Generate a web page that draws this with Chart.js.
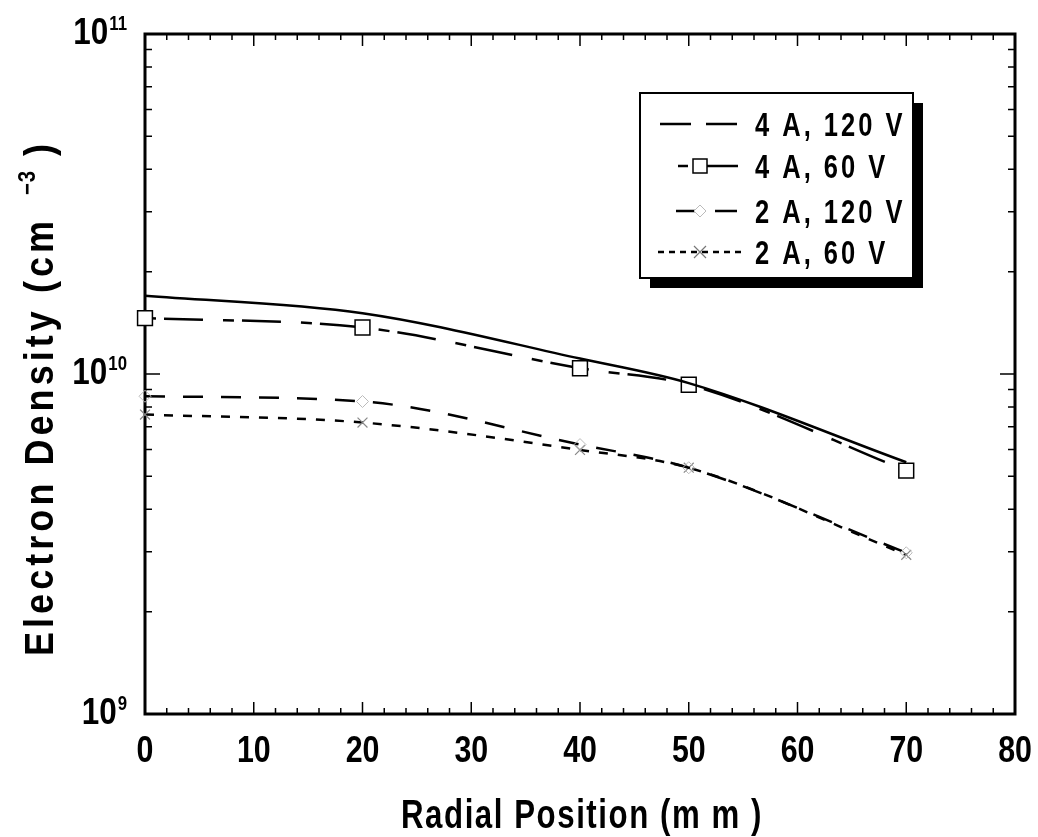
<!DOCTYPE html>
<html lang="en">
<head>
<meta charset="UTF-8" />
<title>Electron Density vs Radial Position</title>
<style>
  body { margin: 0; background: #fff; }
  canvas { display: block; }
</style>
</head>
<body>
<canvas id="myChart" width="1038" height="837"></canvas>
<script src="https://cdn.jsdelivr.net/npm/chart.js@4.4.0/dist/chart.umd.min.js"></script>
<script>
// radial position of each probe measurement (mm)
const positions = [0, 20, 40, 50, 70];

// electron density (cm^-3) for each discharge setting
const density4A120V = [1.70e10, 1.51e10, 1.11e10, 9.4e9, 5.5e9];
const density4A60V = [1.46e10, 1.37e10, 1.04e10, 9.3e9, 5.2e9];
const density2A120V = [8.6e9, 8.3e9, 6.2e9, 5.3e9, 2.98e9];
const density2A60V = [7.6e9, 7.2e9, 5.98e9, 5.3e9, 2.94e9];

const seriesLabels = ["4 A, 120 V", "4 A, 60 V", "2 A, 120 V", "2 A, 60 V"];

// y axis decade labels: base and exponent
const yTickValues = [1e9, 1e10, 1e11];
const yTickBase = ["10", "10", "10"];
const yTickExp = ["9", "10", "11"];

const xTitle = "Radial Position (m m )";
const yTitle = "Electron Density (cm";
const yTitleExp = "\u22123";

const FONT = "'Liberation Sans', Arial, sans-serif";

function pts(values) {
  return positions.map((x, i) => ({ x: x, y: values[i] }));
}

// condensed bold text, the whole chart uses this look
function squeezed(ctx, text, x, y, size, opts) {
  opts = opts || {};
  const sq = opts.squeeze || 0.8;
  ctx.save();
  ctx.font = "bold " + size + "px " + FONT;
  ctx.letterSpacing = (opts.spacing || 0) + "px";
  ctx.textAlign = opts.align || "left";
  ctx.textBaseline = "alphabetic";
  ctx.fillStyle = "#000";
  ctx.translate(x, y);
  if (opts.rotate) ctx.rotate(opts.rotate);
  ctx.scale(sq, 1);
  ctx.fillText(text, 0, 0);
  const w = ctx.measureText(text).width * sq;
  ctx.restore();
  return w;
}

function textWidth(ctx, text, size, spacing, sq) {
  ctx.save();
  ctx.font = "bold " + size + "px " + FONT;
  ctx.letterSpacing = (spacing || 0) + "px";
  const w = ctx.measureText(text).width * sq;
  ctx.restore();
  return w;
}

// box frame with inward ticks on all four sides
const framePlugin = {
  id: "frame",
  beforeDatasetsDraw(chart) {
    const ctx = chart.ctx;
    const a = chart.chartArea;
    const xs = chart.scales.x;
    const ys = chart.scales.y;
    ctx.save();
    ctx.strokeStyle = "#000";
    ctx.lineWidth = 1.5;
    ctx.beginPath();
    for (let v = 2; v < 80; v += 2) {
      const px = xs.getPixelForValue(v);
      const len = v % 10 === 0 ? 12 : 6;
      ctx.moveTo(px, a.bottom);
      ctx.lineTo(px, a.bottom - len);
      ctx.moveTo(px, a.top);
      ctx.lineTo(px, a.top + len);
    }
    [1e9, 1e10].forEach((dec) => {
      for (let m = 1; m <= 9; m++) {
        const v = dec * m;
        if (v <= 1e9) continue;
        const py = ys.getPixelForValue(v);
        const len = m === 1 ? 15 : 7;
        ctx.moveTo(a.left, py);
        ctx.lineTo(a.left + len, py);
        ctx.moveTo(a.right, py);
        ctx.lineTo(a.right - len, py);
      }
    });
    ctx.stroke();
    ctx.lineWidth = 3;
    ctx.strokeRect(a.left, a.top, a.right - a.left, a.bottom - a.top);
    ctx.restore();
  },
};

// legend samples: dash pattern along the sample line and marker kind
const legendSamples = [
  { from: 660, to: 745, dash: [31, 15], marker: null },
  { from: 678, to: 738, dash: [10, 5, 100, 0], marker: "square" },
  { from: 676, to: 737, dash: [19, 20, 40, 0], marker: "diamond" },
  { from: 658, to: 745, dash: [6, 5], marker: "cross" },
];

const labelPlugin = {
  id: "labels",
  afterDraw(chart) {
    const ctx = chart.ctx;
    const a = chart.chartArea;
    const xs = chart.scales.x;
    const ys = chart.scales.y;

    // x tick labels from the scale's own ticks
    xs.ticks.forEach((t) => {
      squeezed(ctx, String(t.value), xs.getPixelForValue(t.value), a.bottom + 48, 37, { align: "center", squeeze: 0.82 });
    });

    // y decade labels with superscript exponents
    yTickValues.forEach((v, i) => {
      const py = ys.getPixelForValue(v);
      const right = 127;
      const ew = textWidth(ctx, yTickExp[i], 21, 0, 0.8);
      squeezed(ctx, yTickExp[i], right - ew, py - 4, 21, { squeeze: 0.8 });
      squeezed(ctx, yTickBase[i], right - ew - 1, py + 10, 37, { align: "right", squeeze: 0.85 });
    });

    // axis titles
    squeezed(ctx, xTitle, (a.left + a.right) / 2 + 2, a.bottom + 114, 40, { align: "center", spacing: 2, squeeze: 0.78 });

    const rot = -Math.PI / 2;
    const tx = 53;
    let ty = 656;
    const w1 = squeezed(ctx, yTitle, tx, ty, 40, { rotate: rot, spacing: 4.5, squeeze: 0.9 });
    ty -= w1 + 22;
    const w2 = squeezed(ctx, yTitleExp, tx - 18, ty, 24, { rotate: rot, spacing: 1, squeeze: 0.85 });
    ty -= w2 + 14;
    squeezed(ctx, ")", tx, ty, 40, { rotate: rot, squeeze: 0.9 });

    // legend box with drop shadow
    const box = { x: 640, y: 93, w: 273, h: 185 };
    ctx.save();
    ctx.fillStyle = "#000";
    ctx.fillRect(box.x + 10, box.y + 10, box.w, box.h);
    ctx.fillStyle = "#fff";
    ctx.fillRect(box.x, box.y, box.w, box.h);
    ctx.lineWidth = 2;
    ctx.strokeStyle = "#000";
    ctx.strokeRect(box.x, box.y, box.w, box.h);

    const rowY = [124, 166, 211, 252];
    legendSamples.forEach((s, i) => {
      const y = rowY[i];
      ctx.save();
      ctx.lineWidth = 2.5;
      ctx.strokeStyle = "#000";
      ctx.setLineDash(s.dash);
      ctx.beginPath();
      ctx.moveTo(s.from, y);
      ctx.lineTo(s.to, y);
      ctx.stroke();
      ctx.setLineDash([]);
      if (s.marker === "square") {
        ctx.fillStyle = "#fff";
        ctx.lineWidth = 1.5;
        ctx.fillRect(693, y - 7, 14, 14);
        ctx.strokeRect(693, y - 7, 14, 14);
      } else if (s.marker === "diamond") {
        ctx.strokeStyle = "#bbb";
        ctx.lineWidth = 1;
        ctx.beginPath();
        ctx.moveTo(700, y - 6); ctx.lineTo(706, y); ctx.lineTo(700, y + 6); ctx.lineTo(694, y); ctx.closePath();
        ctx.stroke();
      } else if (s.marker === "cross") {
        ctx.strokeStyle = "#777";
        ctx.lineWidth = 1.2;
        ctx.beginPath();
        ctx.moveTo(694, y - 6); ctx.lineTo(706, y + 6);
        ctx.moveTo(706, y - 6); ctx.lineTo(694, y + 6);
        ctx.stroke();
      }
      ctx.restore();
      squeezed(ctx, seriesLabels[i], 755, y + 12, 34, { spacing: 4, squeeze: 0.75 });
    });
    ctx.restore();
  },
};

const ctx = document.getElementById("myChart").getContext("2d");

const common = {
  borderColor: "#000",
  borderWidth: 2.5,
  cubicInterpolationMode: "monotone",
  clip: false,
  fill: false,
};

new Chart(ctx, {
  type: "line",
  data: {
    datasets: [
      Object.assign({}, common, {
        label: seriesLabels[0],
        data: pts(density4A120V),
        pointRadius: 0,
      }),
      Object.assign({}, common, {
        label: seriesLabels[1],
        data: pts(density4A60V),
        borderDash: [11, 8, 39, 20],
        pointStyle: "rect",
        pointRadius: 10.5,
        pointBackgroundColor: "#fff",
        pointBorderColor: "#000",
        pointBorderWidth: 1.5,
      }),
      Object.assign({}, common, {
        label: seriesLabels[2],
        data: pts(density2A120V),
        borderDash: [20, 18],
        pointStyle: "rectRot",
        pointRadius: 6,
        pointBackgroundColor: "rgba(0,0,0,0)",
        pointBorderColor: "#bbb",
        pointBorderWidth: 1,
      }),
      Object.assign({}, common, {
        label: seriesLabels[3],
        data: pts(density2A60V),
        borderDash: [9, 10],
        pointStyle: "crossRot",
        pointRadius: 7,
        pointBorderColor: "#888",
        pointBorderWidth: 1.2,
      }),
    ],
  },
  options: {
    responsive: false,
    animation: false,
    layout: { padding: { left: 145, right: 23, top: 34, bottom: 123 } },
    plugins: {
      legend: { display: false },
      tooltip: { enabled: false },
    },
    scales: {
      x: {
        type: "linear",
        min: 0,
        max: 80,
        ticks: { display: false, stepSize: 10 },
        grid: { display: false, drawTicks: false },
        border: { display: false },
      },
      y: {
        type: "logarithmic",
        min: 1e9,
        max: 1e11,
        ticks: { display: false },
        grid: { display: false, drawTicks: false },
        border: { display: false },
      },
    },
  },
  plugins: [framePlugin, labelPlugin],
});
</script>
</body>
</html>
